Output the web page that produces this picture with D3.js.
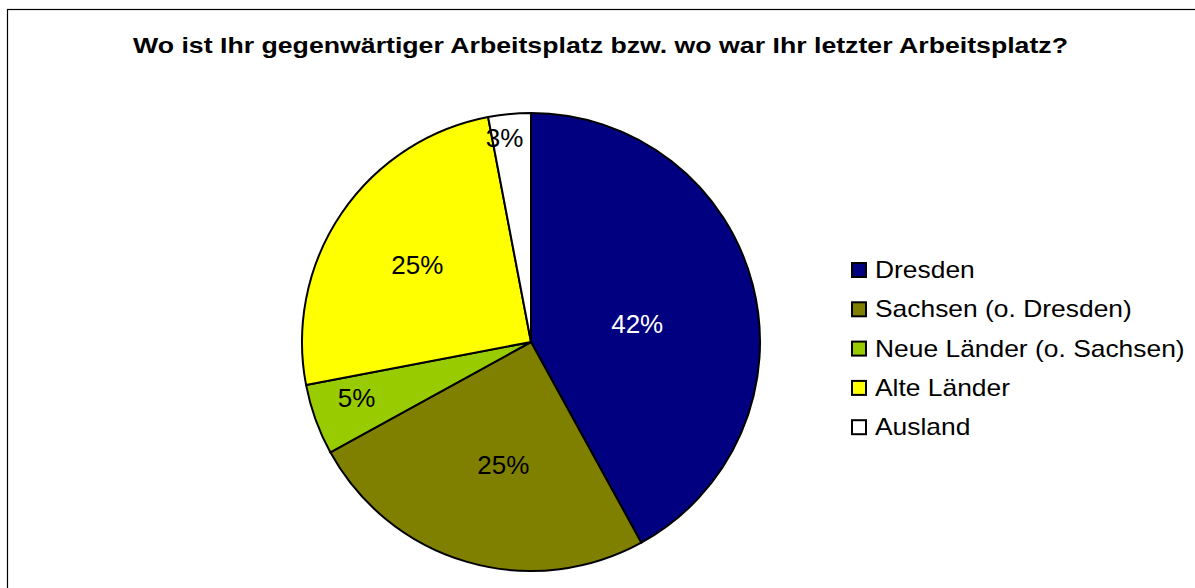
<!doctype html>
<html>
<head>
<meta charset="utf-8"/>
<title>Arbeitsplatz</title>
<script src="https://d3js.org/d3.v7.min.js"></script>
<style>
  body { margin: 0; background: #fff; }
  svg { display: block; font-family: Arial, "Liberation Sans", sans-serif; }
</style>
</head>
<body>
<script>
// Daten
var kategorien = ["Dresden", "Sachsen (o. Dresden)", "Neue Länder (o. Sachsen)", "Alte Länder", "Ausland"];
var werte = [42, 25, 5, 25, 3];
var farben = ["#000080", "#808000", "#99CC00", "#FFFF00", "#FFFFFF"];
var labelFarben = ["#fff", "#000", "#000", "#000", "#000"];
// Lage der Beschriftung: Anteil am Radius und Drehung gegen die Sektormitte (Grad)
var labelAbstand = [0.47, 0.55, 0.8, 0.6, 0.9];
var labelDrehung = [5, -3.5, 2, 0, -2];
var titel = "Wo ist Ihr gegenwärtiger Arbeitsplatz bzw. wo war Ihr letzter Arbeitsplatz?";

var breite = 1195, hoehe = 588;
var cx = 531, cy = 342, radius = 229;
var dehnung = 1.1; // Schrift ist im Original etwas breiter

var svg = d3.select("body").append("svg")
  .attr("width", breite)
  .attr("height", hoehe);

// Rahmen
svg.append("rect")
  .attr("x", 7.5).attr("y", 9.5)
  .attr("width", 1200).attr("height", 600)
  .attr("fill", "none")
  .attr("stroke", "#000")
  .attr("stroke-width", 1.2);

svg.append("text")
  .attr("x", 133).attr("y", 53)
  .attr("font-size", 22)
  .attr("font-weight", "bold")
  .attr("textLength", 935)
  .attr("lengthAdjust", "spacingAndGlyphs")
  .text(titel);

var pie = d3.pie().sort(null).value(function(d){ return d; });
var bogen = d3.arc().innerRadius(0).outerRadius(radius);
var daten = pie(werte);

var g = svg.append("g").attr("transform", "translate(" + cx + "," + cy + ")");

g.selectAll("path")
  .data(daten)
  .enter()
  .append("path")
  .attr("d", bogen)
  .attr("fill", function(d, i){ return farben[i]; })
  .attr("stroke", "#000")
  .attr("stroke-width", 2)
  .attr("stroke-linejoin", "round");

g.selectAll("text.label")
  .data(daten)
  .enter()
  .append("text")
  .attr("class", "label")
  .attr("transform", function(d, i) {
    var r = radius * labelAbstand[i];
    var w = (d.startAngle + d.endAngle) / 2 + labelDrehung[i] * Math.PI / 180;
    return "translate(" + (r * Math.sin(w)) + "," + (-r * Math.cos(w)) + ") scale(1.04,1)";
  })
  .attr("text-anchor", "middle")
  .attr("dy", "0.36em")
  .attr("font-size", 25)
  .attr("fill", function(d, i){ return labelFarben[i]; })
  .text(function(d){ return d.data + "%"; });

// Legende
var legende = svg.append("g").attr("transform", "translate(851,262)");
var zeile = legende.selectAll("g")
  .data(kategorien)
  .enter()
  .append("g")
  .attr("transform", function(d, i){ return "translate(0," + (i * 39.3) + ")"; });

zeile.append("rect")
  .attr("x", 1).attr("y", 1)
  .attr("width", 14).attr("height", 14)
  .attr("fill", function(d, i){ return farben[i]; })
  .attr("stroke", "#000")
  .attr("stroke-width", 2);

zeile.append("text")
  .attr("x", 24).attr("y", 16)
  .attr("font-size", 24)
  .text(function(d){ return d; })
  .each(function() {
    var l = this.getComputedTextLength();
    d3.select(this)
      .attr("textLength", l * dehnung)
      .attr("lengthAdjust", "spacingAndGlyphs");
  });
</script>
</body>
</html>
